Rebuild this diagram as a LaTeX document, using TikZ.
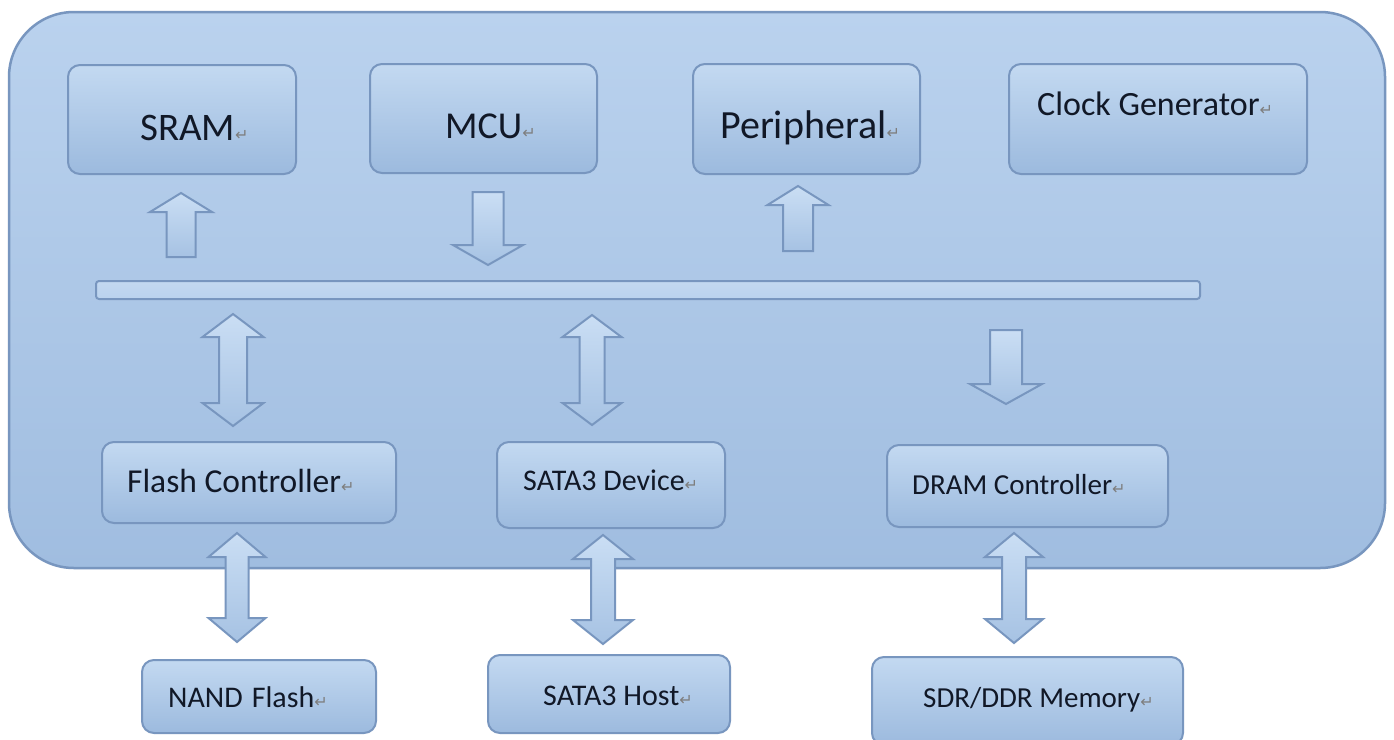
\documentclass[tikz,border=0pt]{standalone}
\usepackage{fontspec}
\setmainfont{Carlito}
\newfontfamily\pmfont{DejaVu Sans}

\definecolor{outerTop}{HTML}{BAD2EE}
\definecolor{outerBot}{HTML}{A0BDE0}
\definecolor{edge}{HTML}{7896BF}
\definecolor{boxTop}{HTML}{C3D9F1}
\definecolor{boxBot}{HTML}{9CBADE}
\definecolor{arrTop}{HTML}{CADEF4}
\definecolor{arrBot}{HTML}{A6C2E3}
\definecolor{ink}{HTML}{111827}
\definecolor{pmark}{HTML}{7E7E7E}

% paragraph mark that follows every label
\newcommand{\parmark}{{\pmfont\fontsize{16}{16}\selectfont\color{pmark}↵}}

% block arrows: centre x, tip/tail y, head length, head half width, shaft half width
\newcommand{\arrowUp}[6]{%
  \filldraw[blockarrow] ({#1-#6},#3) -- ({#1-#6},{#2+#4}) -- ({#1-#5},{#2+#4}) -- (#1,#2)
    -- ({#1+#5},{#2+#4}) -- ({#1+#6},{#2+#4}) -- ({#1+#6},#3) -- cycle;}
\newcommand{\arrowDown}[6]{%
  \filldraw[blockarrow] ({#1-#6},#2) -- ({#1-#6},{#3-#4}) -- ({#1-#5},{#3-#4}) -- (#1,#3)
    -- ({#1+#5},{#3-#4}) -- ({#1+#6},{#3-#4}) -- ({#1+#6},#2) -- cycle;}
\newcommand{\arrowBoth}[6]{%
  \filldraw[blockarrow] (#1,#2) -- ({#1+#5},{#2+#4}) -- ({#1+#6},{#2+#4}) -- ({#1+#6},{#3-#4})
    -- ({#1+#5},{#3-#4}) -- (#1,#3) -- ({#1-#5},{#3-#4}) -- ({#1-#6},{#3-#4})
    -- ({#1-#6},{#2+#4}) -- ({#1-#5},{#2+#4}) -- cycle;}

\tikzset{
  chip/.style={draw=edge, line width=2.5pt, rounded corners=65pt,
    top color=outerTop, bottom color=outerBot, inner sep=0pt},
  unit/.style={draw=edge, line width=2pt, rounded corners=12pt,
    top color=boxTop, bottom color=boxBot, inner sep=0pt},
  busbar/.style={draw=edge, line width=2pt, rounded corners=3pt,
    top color=boxTop, bottom color=outerTop, inner sep=0pt},
  blockarrow/.style={draw=edge, line width=2pt, line join=miter,
    top color=arrTop, bottom color=arrBot},
  lbl/.style={anchor=base west, inner sep=0pt, text=ink},
}

\begin{document}
\begin{tikzpicture}[x=1pt, y=-1pt]
\clip (0,0) rectangle (1394,739);
\fill[white] (0,0) rectangle (1394,739);

% SoC outline
\node[chip, minimum width=1376pt, minimum height=556pt] (soc) at (697,290) {};

% top row
\node[unit, minimum width=228pt, minimum height=109pt] (sram) at (182,119.5) {};
\node[unit, minimum width=227pt, minimum height=109pt] (mcu) at (483.5,118.5) {};
\node[unit, minimum width=227pt, minimum height=110pt] (per) at (806.5,119) {};
\node[unit, minimum width=298pt, minimum height=110pt] (clk) at (1158,119) {};

% system bus
\node[busbar, minimum width=1104pt, minimum height=18pt] (bus) at (648,290) {};

% controllers
\node[unit, minimum width=294pt, minimum height=81pt] (flc) at (249,482.5) {};
\node[unit, minimum width=228pt, minimum height=86pt] (sdev) at (611,485) {};
\node[unit, minimum width=281pt, minimum height=82pt] (drc) at (1027.5,486) {};

% external devices
\node[unit, minimum width=234pt, minimum height=73pt] (nand) at (259,696.5) {};
\node[unit, minimum width=242pt, minimum height=78pt] (shost) at (609,694) {};
\node[unit, minimum width=311pt, minimum height=88pt] (sdr) at (1027.5,701) {};

% bus transfers
\arrowUp{181}{193}{257}{19}{31}{14.5}
\arrowDown{488}{192}{265}{20}{35}{15.5}
\arrowUp{798}{186}{251}{19}{30.5}{15}
\arrowBoth{233}{314}{426}{23}{30.5}{14}
\arrowBoth{592}{315}{425}{22}{29.5}{12.5}
\arrowDown{1006}{330}{404}{20}{36}{16}

% external links
\arrowBoth{237}{533}{642}{24}{28.5}{11.5}
\arrowBoth{603}{535}{644}{24}{30}{12}
\arrowBoth{1014}{533}{643}{24}{29}{12}

% labels
\node[lbl, font=\fontsize{39}{39}\selectfont] (tsram) at (140,140) {SRAM\parmark};
\node[lbl, font=\fontsize{38}{38}\selectfont] (tmcu) at (445,138) {MCU\parmark};
\node[lbl, font=\fontsize{40}{40}\selectfont] (tper) at (720,138) {Peripheral\parmark};
\node[lbl, font=\fontsize{34}{34}\selectfont] (tclk) at (1037,115) {Clock Generator\parmark};
\node[lbl, font=\fontsize{33.5}{34}\selectfont] (tflc) at (127,492) {Flash Controller\parmark};
\node[lbl, font=\fontsize{30}{30}\selectfont] (tsdev) at (523,490) {SATA3 Device\parmark};
\node[lbl, font=\fontsize{29}{29}\selectfont] (tdrc) at (912,494) {DRAM Controller\parmark};
\node[lbl, font=\fontsize{30}{30}\selectfont] (tnand) at (168,707) {NAND\hspace{9pt}Flash\parmark};
\node[lbl, font=\fontsize{30}{30}\selectfont] (tshost) at (543,705) {SATA3 Host\parmark};
\node[lbl, font=\fontsize{29}{29}\selectfont] (tsdr) at (923,707) {SDR/DDR Memory\parmark};
\end{tikzpicture}
\end{document}
